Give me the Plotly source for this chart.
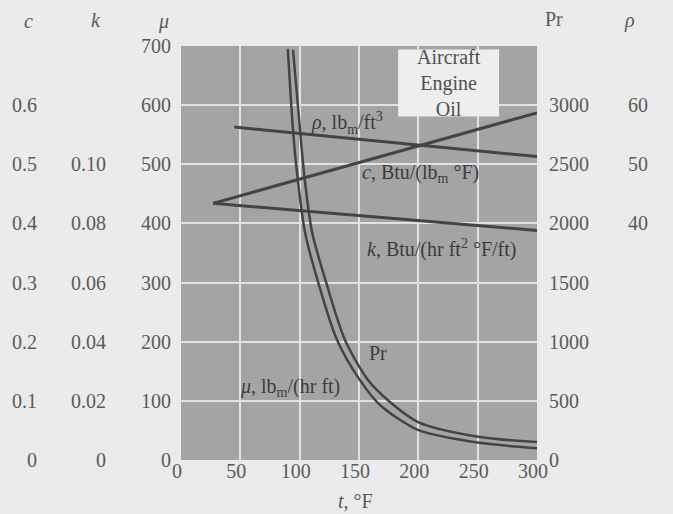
import plotly.graph_objects as go

# ---- data ----
t_rho = [45, 300]
rho = [56.3, 51.3]            # lbm/ft^3

t_c = [27, 300]
c_vals = [0.434, 0.587]       # Btu/(lbm F)

t_k = [27, 300]
k_vals = [0.0868, 0.0776]     # Btu/(hr ft2 F/ft)

t_mu = [90, 94.4, 97.8, 104.5, 115.5, 131.5, 150.8, 167.7, 199.7, 252, 300]
mu_vals = [695, 558, 485, 385, 301, 203, 135, 93, 51, 29, 20]   # lbm/(hr ft)

t_pr = [94.4, 100.3, 103.7, 110.4, 122.2, 138.2, 157.6, 176.1, 199.7, 252, 300]
pr_vals = [3467, 2790, 2426, 1928, 1505, 1015, 676, 490, 321, 194, 152]

x_ticks = [0, 50, 100, 150, 200, 250, 300]
mu_ticks = [0, 100, 200, 300, 400, 500, 600, 700]
c_ticks = [0, 0.1, 0.2, 0.3, 0.4, 0.5, 0.6]
c_ticktext = ["0", "0.1", "0.2", "0.3", "0.4", "0.5", "0.6"]
k_ticks = [0, 0.02, 0.04, 0.06, 0.08, 0.10]
k_ticktext = ["0", "0.02", "0.04", "0.06", "0.08", "0.10"]
pr_ticks = [0, 500, 1000, 1500, 2000, 2500, 3000]
rho_ticks = [40, 50, 60]

W, H = 673, 514
PL, PR, PT, PB = 181, 537, 46, 460

LINE = "#444444"
TXT = "#5a5a5a"
SERIF = "Liberation Serif, Times New Roman, serif"
FS = 20

fig = go.Figure()
fig.add_trace(go.Scatter(x=t_rho, y=rho, yaxis="y5", mode="lines",
                         line=dict(color=LINE, width=3), hoverinfo="skip"))
fig.add_trace(go.Scatter(x=t_c, y=c_vals, yaxis="y2", mode="lines",
                         line=dict(color=LINE, width=3), hoverinfo="skip"))
fig.add_trace(go.Scatter(x=t_k, y=k_vals, yaxis="y3", mode="lines",
                         line=dict(color=LINE, width=3), hoverinfo="skip"))
fig.add_trace(go.Scatter(x=t_mu, y=mu_vals, yaxis="y", mode="lines",
                         line=dict(color=LINE, width=2.5, shape="spline", smoothing=0.8),
                         hoverinfo="skip"))
fig.add_trace(go.Scatter(x=t_pr, y=pr_vals, yaxis="y4", mode="lines",
                         line=dict(color=LINE, width=2.5, shape="spline", smoothing=0.8),
                         hoverinfo="skip"))

tickfont = dict(family=SERIF, size=FS, color=TXT)
common_free = dict(showgrid=False, zeroline=False, showline=False, ticks="",
                   tickfont=tickfont, fixedrange=True)

fig.update_layout(
    width=W, height=H,
    margin=dict(l=0, r=0, t=PT, b=H - PB, autoexpand=False),
    paper_bgcolor="#ebebeb",
    plot_bgcolor="#a4a4a4",
    showlegend=False,
    xaxis=dict(domain=[PL / W, PR / W], range=[0, 300], tickvals=x_ticks,
               showgrid=True, gridcolor="#e2e2e2", gridwidth=2, zeroline=False,
               showline=False, ticks="", tickfont=tickfont, automargin=False,
               ticklabelstandoff=-3, ticklabelshift=-4),
    yaxis=dict(range=[0, 700], tickvals=mu_ticks, showgrid=True,
               gridcolor="#e2e2e2", gridwidth=2, zeroline=False, showline=False,
               ticks="", tickfont=tickfont, automargin=False, ticklabelstandoff=9),
    yaxis2=dict(overlaying="y", anchor="free", position=37 / W, side="left",
                range=[0, 0.7], tickvals=c_ticks, ticktext=c_ticktext,
                automargin=False, **common_free),
    yaxis3=dict(overlaying="y", anchor="free", position=106 / W, side="left",
                range=[0, 0.14], tickvals=k_ticks, ticktext=k_ticktext,
                automargin=False, **common_free),
    yaxis4=dict(overlaying="y", anchor="x", side="right", range=[0, 3500],
                tickvals=pr_ticks, automargin=False, ticklabelstandoff=11,
                **common_free),
    yaxis5=dict(overlaying="y", anchor="free", position=627 / W, side="right",
                range=[0, 70], tickvals=rho_ticks, automargin=False,
                **common_free),
)

# white title box
fig.add_shape(type="rect", xref="x", yref="y", x0=183, x1=268, y0=581, y1=694,
              fillcolor="#eeeeee", line=dict(width=0), layer="above")

ann_font = dict(family=SERIF, size=FS, color=TXT)
lab_font = dict(family=SERIF, size=20, color="#3c3c3c")
anns = [
    dict(x=225.5, y=637, xref="x", yref="y", text="Aircraft<br>Engine<br>Oil",
         showarrow=False, font=dict(family=SERIF, size=20, color="#505050"),
         align="center"),
    dict(x=108, y=570, xref="x", yref="y", xanchor="left",
         text="<i>ρ</i>, lb<sub>m</sub>/ft<sup>3</sup>", showarrow=False, font=lab_font),
    dict(x=151, y=485, xref="x", yref="y", xanchor="left",
         text="<i>c</i>, Btu/(lb<sub>m</sub> °F)", showarrow=False, font=lab_font),
    dict(x=155, y=358, xref="x", yref="y", xanchor="left",
         text="<i>k</i>, Btu/(hr ft<sup>2</sup> °F/ft)", showarrow=False, font=lab_font),
    dict(x=157, y=181, xref="x", yref="y", xanchor="left",
         text="Pr", showarrow=False, font=lab_font),
    dict(x=48, y=123, xref="x", yref="y", xanchor="left",
         text="<i>μ</i>, lb<sub>m</sub>/(hr ft)", showarrow=False, font=lab_font),
    # column headers (pixel positions converted below)
    dict(x=22, y=21, text="<i>c</i>"),
    dict(x=89, y=20, text="<i>k</i>"),
    dict(x=156, y=22, text="<i>μ</i>"),
    dict(x=565, y=19, text="Pr"),
    dict(x=637, y=21, text="<i>ρ</i>"),
    # x-axis title
    dict(x=355, y=501, text="<i>t</i>, °F"),
]
for a in anns:
    if "xref" not in a:
        a.update(xref="paper", yref="paper", yanchor="middle", showarrow=False,
                 font=ann_font)
        a["x"] = a["x"] / W
        a["y"] = (PB - a["y"]) / (PB - PT)
fig.update_layout(annotations=anns)

fig.write_html("out.html",
               config={"displayModeBar": False, "staticPlot": True},
               post_script="document.body.style.margin='0';"
                           "document.body.style.background='#ebebeb';")
